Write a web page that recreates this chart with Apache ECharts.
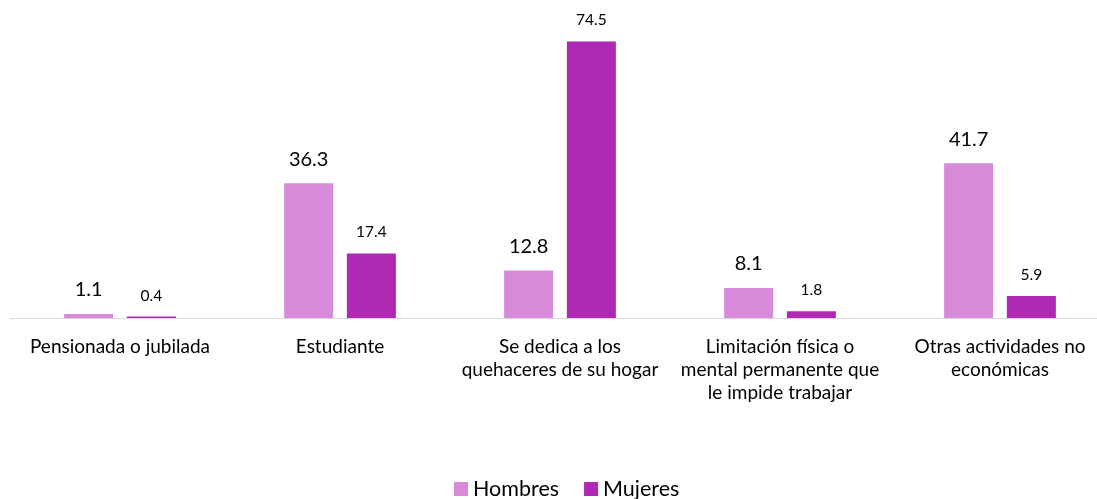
<!DOCTYPE html>
<html>
<head>
<meta charset="utf-8">
<script src="https://cdn.jsdelivr.net/npm/echarts@6/dist/echarts.min.js"></script>
<style>
  html, body { margin: 0; padding: 0; background: #fff; }
  #chart { width: 1097px; height: 499px; }
</style>
</head>
<body>
<div id="chart"></div>
<script>
// categorias y valores (%)
var categories = [
  'Pensionada o jubilada',
  'Estudiante',
  'Se dedica a los\nquehaceres de su hogar',
  'Limitación física o\nmental permanente que\nle impide trabajar',
  'Otras actividades no\neconómicas'
]
var hombres = [1.1, 36.3, 12.8, 8.1, 41.7]
var mujeres = [0.4, 17.4, 74.5, 1.8, 5.9]

var fontName = 'Lato, "Open Sans", sans-serif'
var chart = echarts.init(document.getElementById('chart'))

var option = {
  animation: false,
  textStyle: { fontFamily: fontName },
  grid: {
    left: 10,
    width: 1100,
    top: 21,
    bottom: 181,
    containLabel: false,
    outerBoundsMode: 'none'
  },
  legend: {
    data: ['Hombres', 'Mujeres'],
    top: 473,
    left: 449,
    itemWidth: 14,
    itemHeight: 14,
    itemGap: 25,
    icon: 'rect',
    textStyle: { fontSize: 21.5, color: '#000', fontFamily: fontName }
  },
  xAxis: {
    type: 'category',
    data: categories,
    axisLine: { lineStyle: { color: '#d9d9d9', width: 1 } },
    axisTick: { show: false },
    axisLabel: {
      interval: 0,
      fontSize: 19,
      lineHeight: 23,
      margin: 17,
      color: '#000',
      fontFamily: fontName
    }
  },
  yAxis: {
    type: 'value',
    min: 0,
    max: 80,
    show: false,
    splitLine: { show: false }
  },
  series: [
    {
      name: 'Hombres',
      type: 'bar',
      data: hombres,
      barWidth: 49,
      barGap: '28%',
      itemStyle: { color: '#D68AD9' },
      label: {
        show: true,
        position: 'top',
        distance: 14,
        fontSize: 20,
        color: '#000',
        fontFamily: fontName
      }
    },
    {
      name: 'Mujeres',
      type: 'bar',
      data: mujeres,
      barWidth: 49,
      itemStyle: { color: '#B029B5' },
      label: {
        show: true,
        position: 'top',
        distance: 13,
        fontSize: 15.5,
        color: '#000',
        fontFamily: fontName
      }
    }
  ]
}

chart.setOption(option)
</script>
</body>
</html>
